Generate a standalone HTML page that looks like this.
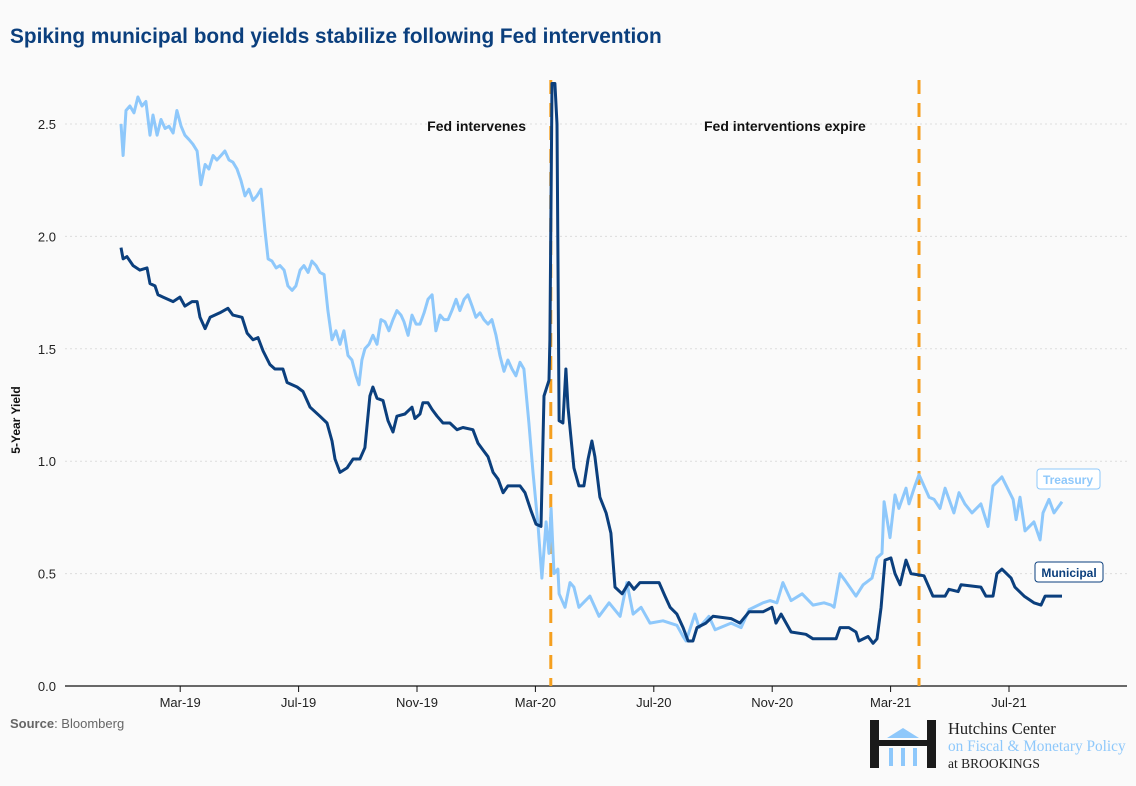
<!DOCTYPE html>
<html><head><meta charset="utf-8"><style>
html,body{margin:0;padding:0;background:#fafafa;}
body{width:1136px;height:786px;overflow:hidden;font-family:"Liberation Sans",sans-serif;}
</style></head><body>
<svg id="chart" width="1136" height="786" xmlns="http://www.w3.org/2000/svg" style="position:absolute;left:0;top:0">
<rect width="1136" height="786" fill="#fafafa"/>
<text x="10" y="43" font-size="20.8" font-weight="bold" fill="#0b3f7d">Spiking municipal bond yields stabilize following Fed intervention</text>
<g id="grid"></g>
<g id="xaxis"></g>
<g id="yaxis"></g>
<text transform="translate(20,420) rotate(-90)" text-anchor="middle" font-size="12" font-weight="bold" fill="#111">5-Year Yield</text>
<g id="vlines"></g>
<g id="series"></g>
<text x="526" y="131" text-anchor="end" font-size="14" font-weight="bold" fill="#111">Fed intervenes</text>
<text x="704" y="131" font-size="14" font-weight="bold" fill="#111">Fed interventions expire</text>
<g><rect x="1037" y="469" width="63" height="20" rx="3" fill="#fff" stroke="#8ec8fb"/><text x="1068" y="484" text-anchor="middle" font-size="12" font-weight="bold" fill="#8ec8fb">Treasury</text></g>
<g><rect x="1035" y="562" width="68" height="20" rx="3" fill="#fff" stroke="#0b3f7d"/><text x="1069" y="577" text-anchor="middle" font-size="12" font-weight="bold" fill="#0b3f7d">Municipal</text></g>
<text x="10" y="728" font-size="13" fill="#666"><tspan font-weight="bold">Source</tspan>: Bloomberg</text>
<g>
<rect x="870" y="720" width="9" height="48" fill="#1a1a1a"/><rect x="927" y="720" width="9" height="48" fill="#1a1a1a"/>
<rect x="879" y="740" width="48" height="6" fill="#1a1a1a"/>
<polygon points="887,738 903,728 919,738" fill="#8ec8fb"/>
<rect x="889" y="748" width="4" height="18" fill="#8ec8fb"/><rect x="901" y="748" width="4" height="18" fill="#8ec8fb"/><rect x="913" y="748" width="4" height="18" fill="#8ec8fb"/>
<text x="948" y="734" font-family="Liberation Serif,serif" font-size="16.5" fill="#222">Hutchins Center</text>
<text x="948" y="751" font-family="Liberation Serif,serif" font-size="15.3" fill="#8ec8fb">on Fiscal &amp; Monetary Policy</text>
<text x="948" y="768" font-family="Liberation Serif,serif" font-size="13.5" fill="#222">at BROOKINGS</text>
</g>
</svg>
<script>
const xTickLabels=["Mar-19","Jul-19","Nov-19","Mar-20","Jul-20","Nov-20","Mar-21","Jul-21"];
const xTickMonths=[2,6,10,14,18,22,26,30];
const yTicks=[0,0.5,1,1.5,2,2.5];
const eventMonths=[14.52,26.96];
const tMonths=[0,.07,.17,.30,.44,.57,.71,.84,.98,1.08,1.22,1.35,1.49,1.62,1.76,1.89,2.03,2.16,2.30,2.43,2.57,2.70,2.84,2.97,3.11,3.24,3.38,3.51,3.65,3.78,3.92,4.05,4.19,4.32,4.46,4.59,4.73,4.86,4.97,5.10,5.24,5.37,5.51,5.64,5.78,5.91,6.05,6.18,6.32,6.45,6.59,6.72,6.86,6.99,7.13,7.26,7.40,7.53,7.67,7.80,7.94,8.04,8.14,8.24,8.38,8.51,8.65,8.78,8.92,9.05,9.19,9.32,9.46,9.56,9.70,9.83,9.97,10.10,10.24,10.37,10.51,10.64,10.78,10.91,11.05,11.18,11.32,11.45,11.59,11.72,11.86,11.99,12.13,12.26,12.40,12.53,12.67,12.80,12.94,13.07,13.21,13.34,13.48,13.61,13.78,13.92,14.09,14.22,14.36,14.46,14.53,14.63,14.76,14.80,15.00,15.17,15.30,15.47,15.84,16.15,16.49,16.86,17.09,17.30,17.57,17.87,18.31,18.78,18.99,19.09,19.39,19.53,19.86,20.07,20.61,20.95,21.22,21.69,21.93,22.16,22.36,22.64,23.01,23.38,23.75,23.99,24.09,24.29,24.46,24.83,25.07,25.37,25.54,25.71,25.78,25.98,26.15,26.28,26.52,26.62,26.82,26.96,27.13,27.30,27.47,27.67,27.84,28.14,28.31,28.51,28.75,29.05,29.29,29.46,29.76,30.14,30.24,30.37,30.54,30.84,31.05,31.15,31.35,31.52,31.79];
const tVals=[2.50,2.36,2.56,2.58,2.55,2.62,2.58,2.60,2.45,2.54,2.45,2.52,2.48,2.49,2.46,2.56,2.49,2.45,2.43,2.41,2.38,2.23,2.32,2.30,2.36,2.34,2.36,2.38,2.34,2.33,2.30,2.25,2.18,2.21,2.16,2.18,2.21,2.03,1.90,1.89,1.86,1.87,1.85,1.78,1.76,1.78,1.85,1.87,1.84,1.89,1.87,1.84,1.83,1.67,1.54,1.58,1.52,1.58,1.47,1.45,1.38,1.34,1.45,1.50,1.52,1.56,1.52,1.63,1.62,1.58,1.63,1.67,1.65,1.62,1.56,1.65,1.61,1.61,1.66,1.72,1.74,1.58,1.65,1.63,1.63,1.67,1.72,1.67,1.72,1.74,1.69,1.64,1.66,1.63,1.61,1.63,1.56,1.47,1.40,1.45,1.41,1.38,1.44,1.41,1.17,0.95,0.71,0.48,0.73,0.59,0.79,0.50,0.52,0.41,0.35,0.46,0.44,0.35,0.40,0.31,0.37,0.31,0.46,0.32,0.35,0.28,0.29,0.27,0.22,0.20,0.32,0.26,0.31,0.25,0.28,0.26,0.34,0.37,0.38,0.37,0.46,0.38,0.41,0.36,0.37,0.36,0.35,0.50,0.47,0.40,0.45,0.48,0.57,0.59,0.82,0.66,0.85,0.79,0.88,0.81,0.89,0.94,0.89,0.84,0.83,0.79,0.88,0.77,0.86,0.81,0.77,0.81,0.71,0.89,0.93,0.83,0.74,0.84,0.69,0.73,0.65,0.77,0.83,0.77,0.82];
const mMonths=[0,.07,.20,.41,.64,.88,.98,1.15,1.25,1.42,1.76,1.99,2.16,2.40,2.57,2.67,2.84,3.01,3.34,3.61,3.78,4.09,4.26,4.46,4.63,4.80,5.03,5.20,5.47,5.61,5.95,6.15,6.39,6.72,6.96,7.13,7.23,7.40,7.64,7.84,8.07,8.24,8.41,8.51,8.65,8.85,9.02,9.19,9.32,9.59,9.83,9.93,10.10,10.20,10.37,10.51,10.68,10.88,11.11,11.35,11.55,11.89,12.06,12.23,12.40,12.57,12.74,12.91,13.07,13.38,13.48,13.65,13.85,14.02,14.19,14.29,14.46,14.49,14.56,14.66,14.73,14.80,14.93,15.03,15.10,15.30,15.47,15.64,15.78,15.91,16.01,16.18,16.39,16.55,16.69,16.93,17.16,17.33,17.53,18.18,18.38,18.55,18.78,18.99,19.16,19.32,19.46,19.76,20.00,20.61,20.91,21.22,21.69,21.99,22.13,22.30,22.64,23.14,23.38,24.16,24.29,24.59,24.83,24.93,25.24,25.41,25.54,25.68,25.81,26.01,26.15,26.32,26.52,26.69,27.13,27.43,27.84,27.97,28.28,28.38,29.05,29.22,29.46,29.59,29.76,30.07,30.20,30.51,30.84,31.08,31.22,31.59,31.79];
const mVals=[1.95,1.90,1.91,1.87,1.85,1.86,1.79,1.78,1.74,1.73,1.71,1.73,1.69,1.71,1.71,1.64,1.59,1.64,1.66,1.68,1.65,1.64,1.57,1.54,1.55,1.49,1.43,1.41,1.41,1.35,1.33,1.31,1.24,1.20,1.17,1.09,1.01,0.95,0.97,1.01,1.01,1.06,1.29,1.33,1.28,1.27,1.18,1.13,1.20,1.21,1.24,1.19,1.21,1.26,1.26,1.23,1.20,1.17,1.17,1.14,1.15,1.14,1.08,1.05,1.02,0.95,0.92,0.86,0.89,0.89,0.89,0.86,0.78,0.72,0.71,1.29,1.36,1.54,2.68,2.68,2.50,1.18,1.17,1.41,1.24,0.97,0.89,0.89,1.01,1.09,1.02,0.84,0.77,0.68,0.44,0.41,0.46,0.43,0.46,0.46,0.40,0.35,0.32,0.26,0.20,0.20,0.26,0.28,0.31,0.30,0.28,0.33,0.33,0.35,0.28,0.32,0.24,0.23,0.21,0.21,0.26,0.26,0.24,0.20,0.22,0.19,0.21,0.35,0.56,0.57,0.50,0.45,0.56,0.50,0.49,0.40,0.40,0.43,0.42,0.45,0.44,0.40,0.40,0.50,0.52,0.48,0.44,0.40,0.37,0.36,0.40,0.40,0.40];

const NS="http://www.w3.org/2000/svg";
function xs(m){return 121+m*29.6;}
function ys(v){return 686-v*224.8;}
function mk(tag,attrs,parent){const e=document.createElementNS(NS,tag);for(const k in attrs)e.setAttribute(k,attrs[k]);parent.appendChild(e);return e;}
const grid=document.getElementById('grid'),xa=document.getElementById('xaxis'),ya=document.getElementById('yaxis');
yTicks.forEach(v=>{
  if(v>0){const g=mk('line',{x1:65,x2:1127,y1:ys(v),y2:ys(v),stroke:'#ddd','stroke-dasharray':'2,3'},grid);
  
  }
  const t=mk('text',{x:56,y:ys(v)+5,'text-anchor':'end','font-size':13,fill:'#222'},ya);
  
  
  t.textContent=v.toFixed(1);
});
const ax=mk('line',{x1:65,x2:1127,y1:686,y2:686,stroke:'#111','stroke-width':1.3},xa);


xTickMonths.forEach((m,i)=>{
  const tk=mk('line',{x1:xs(m),x2:xs(m),y1:686,y2:692,stroke:'#111'},xa);
  
  
  const t=mk('text',{x:xs(m),y:707,'text-anchor':'middle','font-size':13,fill:'#222'},xa);
  
  
  t.textContent=xTickLabels[i];
});
const vl=document.getElementById('vlines');
eventMonths.forEach(m=>{
  const l=mk('line',{x1:xs(m),x2:xs(m),y1:80,y2:686,stroke:'#f59f1f','stroke-width':3,'stroke-dasharray':'14,9'},vl);
  
  
});
const sg=document.getElementById('series');
function path(ms,vs){return ms.map((m,i)=>(i?'L':'M')+xs(m).toFixed(1)+','+ys(vs[i]).toFixed(1)).join('');}
const tp=mk('path',{d:path(tMonths,tVals),fill:'none',stroke:'#8ec8fb','stroke-width':3,'stroke-linejoin':'round'},sg);


const mp=mk('path',{d:path(mMonths,mVals),fill:'none',stroke:'#0b3f7d','stroke-width':3,'stroke-linejoin':'round'},sg);


</script>
</body></html>
